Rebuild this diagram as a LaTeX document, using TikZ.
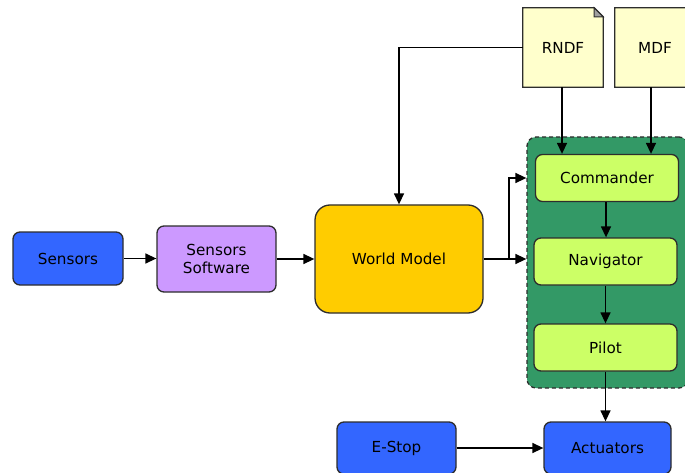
\documentclass[tikz,border=0pt]{standalone}
\usepackage{fontspec}
\setmainfont{DejaVu Sans}
\usetikzlibrary{arrows.meta,calc}
\definecolor{cblue}{RGB}{51,102,255}
\definecolor{cpurple}{RGB}{204,153,255}
\definecolor{cyellow}{RGB}{255,204,0}
\definecolor{cgreen}{RGB}{51,153,102}
\definecolor{clgreen}{RGB}{204,255,102}
\definecolor{cnote}{RGB}{255,255,204}
\definecolor{cborder}{RGB}{45,45,45}
\tikzset{
  box/.style={draw=cborder,line width=1.3pt,rounded corners=7pt,align=center,inner sep=0pt,
    font=\fontsize{15.2}{18}\selectfont},
  notebox/.style={inner sep=0pt,font=\fontsize{15.2}{18}\selectfont},
  notedraw/.style={draw=cborder,line width=1.3pt,fill=cnote},
  conn/.style={draw=black,line width=1.4pt,-{Triangle[length=11pt,width=10pt]}},
  plain/.style={draw=black,line width=1.4pt}
}
\begin{document}
\begin{tikzpicture}[x=1pt,y=-1pt]
\useasboundingbox (0,0) rectangle (685,473);
% group
\node[draw=cborder,dashed,dash pattern=on 4pt off 3pt,line width=1.3pt,fill=cgreen,rounded corners=9pt,
  minimum width=161pt,minimum height=251pt,inner sep=0pt] (grp) at (607.5,262.5) {};
% nodes
\node[box,fill=cblue,minimum width=110pt,minimum height=53pt] (sens) at (68,258.5) {Sensors};
\node[box,fill=cpurple,minimum width=119pt,minimum height=66pt] (ssw) at (216.5,259) {Sensors\\Software};
\node[box,fill=cyellow,minimum width=168pt,minimum height=108pt,rounded corners=15pt] (wm) at (399,259) {World Model};
\node[box,fill=clgreen,minimum width=143pt,minimum height=47pt] (cmd) at (607,178) {Commander};
\node[box,fill=clgreen,minimum width=143pt,minimum height=47pt] (nav) at (605.5,261.5) {Navigator};
\node[box,fill=clgreen,minimum width=143pt,minimum height=47pt] (pil) at (605.5,347.5) {Pilot};
\node[box,fill=cblue,minimum width=127pt,minimum height=52pt] (act) at (607.5,448) {Actuators};
\node[box,fill=cblue,minimum width=119pt,minimum height=52pt] (est) at (396.5,448) {E-Stop};
% notes
\node[notebox,minimum width=80pt,minimum height=79pt] (rndf) at (563,47.5) {};
\node[notebox,minimum width=80pt,minimum height=79pt] (mdf) at (655,47.5) {};
\foreach \n in {rndf,mdf}{
  \draw[notedraw] (\n.north west) -- ([xshift=-9pt]\n.north east) -- ([yshift=-9pt]\n.north east)
    -- (\n.south east) -- (\n.south west) -- cycle;
  \draw[draw=cborder,line width=1pt,fill=cborder!45] ([xshift=-9pt]\n.north east) -- ([xshift=-9pt,yshift=-9pt]\n.north east) -- ([yshift=-9pt]\n.north east) -- cycle;
}
\node[notebox] at (rndf) {RNDF};
\node[notebox] at (mdf) {MDF};
% connectors
\draw[conn] (sens.east) -- (ssw.west |- sens.east);
\draw[conn] (ssw.east) -- (wm.west |- ssw.east);
\draw[conn] (rndf.west) -- (wm.north |- rndf.west) -- (wm.north);
\coordinate (br) at (509,259);
\draw[plain] (wm.east |- br) -- (br);
\draw[conn] (br) |- (grp.west |- cmd.west);
\draw[conn] (br) -- (grp.west |- br);
\draw[conn] ([xshift=-1pt]rndf.south) -- ([xshift=-1pt]rndf.south |- cmd.north);
\draw[conn] ([xshift=-4pt]mdf.south) -- ([xshift=-4pt]mdf.south |- cmd.north);
\draw[conn] ([xshift=-1pt]cmd.south) -- ([xshift=-1pt]cmd.south |- nav.north);
\draw[conn] (nav.south) -- (nav.south |- pil.north);
\draw[conn] (pil.south) -- (pil.south |- act.north);
\draw[conn] (est.east) -- (act.west |- est.east);
\end{tikzpicture}
\end{document}
